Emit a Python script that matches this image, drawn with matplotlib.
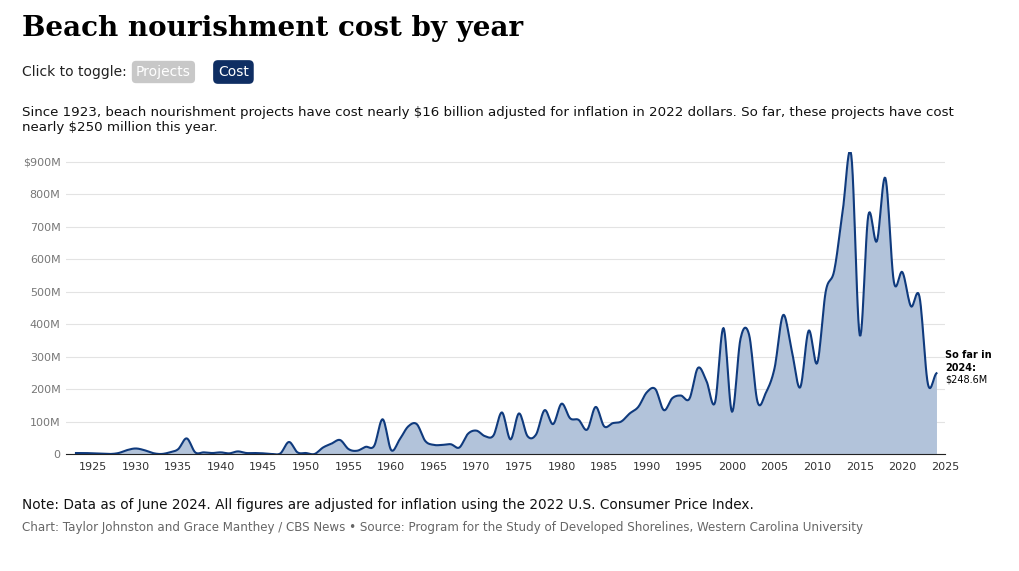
import matplotlib.pyplot as plt
import numpy as np

years = list(range(1923, 2025))
cost = [3, 3, 2, 1, 0, 3, 12, 17, 12, 3, 0, 5, 15, 48, 5, 5, 3, 5, 2, 8,
        3, 3, 2, 0, 2, 37, 5, 3, 0, 20, 32, 43, 15, 10, 22, 25, 107, 12, 45, 85,
        92, 40, 28, 28, 30, 20, 62, 72, 55, 57, 128, 45, 125, 55, 60, 135, 92, 155, 110, 105,
        75, 145, 85, 95, 100, 125, 145, 190, 200, 135, 172, 180, 170, 265, 225, 158, 388, 130, 355, 368,
        160, 190, 265, 428, 320, 205, 380, 280, 500, 565, 750, 920, 365, 735, 655, 850, 530, 560, 455, 485,
        215, 248.6]

# catmull-rom smoothing between the yearly points, just for the drawn line
def smooth(x, y, n=12):
    x = np.asarray(x, float); y = np.asarray(y, float)
    xp = np.concatenate([[2*x[0]-x[1]], x, [2*x[-1]-x[-2]]])
    yp = np.concatenate([[y[0]], y, [y[-1]]])
    xs, ys = [], []
    for i in range(1, len(xp)-2):
        t = np.linspace(0, 1, n, endpoint=False)
        p0, p1, p2, p3 = yp[i-1], yp[i], yp[i+1], yp[i+2]
        ys.append(0.5*((2*p1) + (-p0+p2)*t + (2*p0-5*p1+4*p2-p3)*t**2 + (-p0+3*p1-3*p2+p3)*t**3))
        xs.append(xp[i] + t*(xp[i+1]-xp[i]))
    xs.append([x[-1]]); ys.append([y[-1]])
    return np.concatenate(xs), np.concatenate(ys)

sx, sy = smooth(years, cost)
line_col = '#0f3a7d'

fig = plt.figure(figsize=(10.2, 5.71), dpi=100)
ax = fig.add_axes([66/1020, 1-454/571, (945-66)/1020, (454-152)/571])
ax.fill_between(sx, sy, 0, color='#b2c3da', lw=0)
ax.plot(sx, sy, color=line_col, lw=1.5)
ax.set_xlim(1921.83, 2025)
ax.set_ylim(0, 930)
ax.set_yticks(range(0, 901, 100))
ax.set_yticklabels(['0'] + ['%dM' % v for v in range(100, 801, 100)] + ['$900M'])
ax.set_xticks(range(1925, 2026, 5))
ax.tick_params(axis='both', length=0, labelsize=8, labelcolor='#777777')
ax.tick_params(axis='x', pad=6, labelcolor='#333333')
ax.tick_params(axis='y', pad=4)
ax.grid(axis='y', color='#e3e3e3', lw=0.8)
ax.set_axisbelow(True)
for s in ['top', 'right', 'left']:
    ax.spines[s].set_visible(False)
ax.spines['bottom'].set_color('#222222')
ax.text(2025.0, 250, 'So far in\n2024:', fontsize=7, fontweight='bold', va='bottom', ha='left', linespacing=1.3)
ax.text(2025.0, 245, '$248.6M', fontsize=7, va='top', ha='left')

fig.text(22/1020, 1-28/571, 'Beach nourishment cost by year', fontsize=20, fontweight='bold',
         family='DejaVu Serif', va='center')
fig.text(22/1020, 1-72/571, 'Click to toggle:', fontsize=10, va='center', color='#222222')
fig.text(136/1020, 1-72/571, 'Projects', fontsize=10, va='center', color='white',
         bbox=dict(boxstyle='round,pad=0.3', fc='#c8c8c8', ec='none'))
fig.text(218/1020, 1-72/571, 'Cost', fontsize=10, va='center', color='white',
         bbox=dict(boxstyle='round,pad=0.35', fc='#0f2e63', ec='none'))
fig.text(22/1020, 1-120/571, 'Since 1923, beach nourishment projects have cost nearly $16 billion adjusted for inflation in 2022 dollars. So far, these projects have cost\nnearly $250 million this year.',
         fontsize=9.6, va='center', color='#111111', linespacing=1.15)
fig.text(22/1020, 1-505/571, 'Note: Data as of June 2024. All figures are adjusted for inflation using the 2022 U.S. Consumer Price Index.',
         fontsize=9.8, va='center', color='#111111')
fig.text(22/1020, 1-528/571, 'Chart: Taylor Johnston and Grace Manthey / CBS News \u2022 Source: Program for the Study of Developed Shorelines, Western Carolina University',
         fontsize=8.6, va='center', color='#666666')

plt.savefig('out.png', dpi=100)
